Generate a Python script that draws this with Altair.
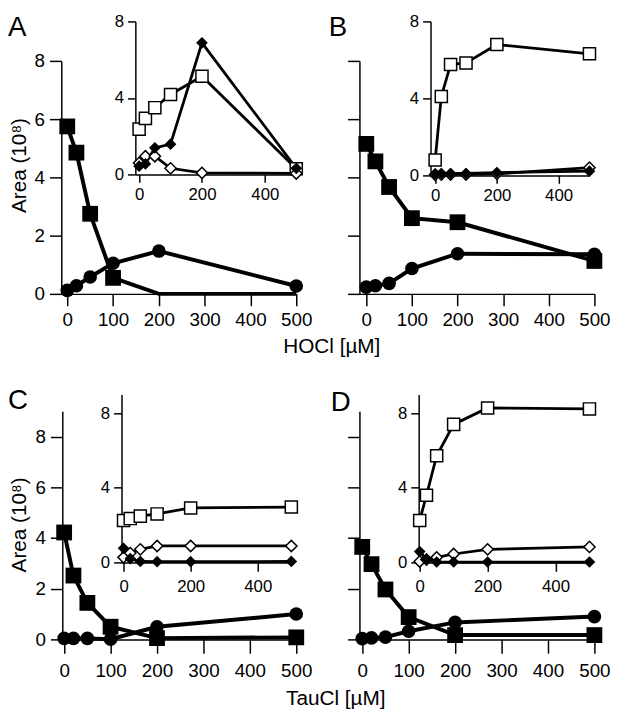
import altair as alt
import pandas as pd

FONT = "Liberation Sans"
W, H = 625, 707

# concentrations (µM)
conc = [0, 20, 50, 100, 200, 500]

# ---- Panel A (HOCl) ----
a_main_sq = [5.75, 4.85, 2.75, 0.55, 0.0, 0.0]
a_main_ci = [0.12, 0.28, 0.58, 1.05, 1.47, 0.27]
a_in_osq = [2.37, 2.93, 3.49, 4.18, 5.13, 0.3]
a_in_fdi = [0.43, 0.55, 1.39, 1.58, 6.88, 0.32]
a_in_odi = [0.6, 0.95, 0.95, 0.32, 0.08, 0.05]

# ---- Panel B (HOCl) ----
b_main_sq = [5.15, 4.55, 3.67, 2.6, 2.46, 1.13]
b_main_ci = [0.23, 0.28, 0.36, 0.87, 1.38, 1.36]
b_in_osq = [0.8, 4.1, 5.76, 5.84, 6.8, 6.32]
b_in_fdi = [0.08, 0.1, 0.1, 0.1, 0.15, 0.22]
b_in_odi = [0.03, 0.05, 0.05, 0.05, 0.08, 0.4]

# ---- Panel C (TauCl) ----
c_main_sq = [4.22, 2.52, 1.44, 0.5, 0.05, 0.08]
c_main_ci = [0.04, 0.04, 0.04, 0.01, 0.5, 1.0]
c_in_osq = [2.25, 2.35, 2.48, 2.6, 2.92, 2.97]
c_in_fdi = [0.76, 0.2, 0.05, 0.04, 0.04, 0.05]
c_in_odi = [0.27, 0.5, 0.7, 0.88, 0.88, 0.88]

# ---- Panel D (TauCl) ----
d_main_sq = [3.65, 2.97, 1.97, 0.88, 0.17, 0.17]
d_main_ci = [0.03, 0.06, 0.09, 0.32, 0.67, 0.9]
d_in_osq = [2.25, 3.6, 5.72, 7.4, 8.28, 8.23]
d_in_fdi = [0.58, 0.18, 0.02, 0.02, 0.02, 0.02]
d_in_odi = [0.05, 0.15, 0.27, 0.45, 0.7, 0.83]

main_xticks = [0, 100, 200, 300, 400, 500]
main_yticks = [0, 2, 4, 6, 8]
inset_xticks = [0, 200, 400]
inset_yticks = [0, 4, 8]


def long_df(**series):
    rows = []
    for name, vals in series.items():
        for c, v in zip(conc, vals):
            rows.append({"x": c, "value": v, "series": name})
    return pd.DataFrame(rows)


def axis_common(size, ticksize, pad):
    return dict(grid=False, domainColor="black", domainWidth=1.5, tickColor="black",
                tickWidth=1.5, tickSize=ticksize, labelFont=FONT, labelFontSize=size,
                labelColor="black", labelPadding=pad, labelFlush=False,
                labelOverlap=False, title=None)


def encodings(xdom, xr, ydom, yr, xvals, yvals, ylabels, size, yts, ypad, xts, xpad):
    x = alt.X("x:Q", scale=alt.Scale(domain=xdom, range=xr, nice=False, zero=False),
              axis=alt.Axis(orient="bottom", offset=yr[0] - H, values=xvals,
                            **axis_common(size, xts, xpad)))
    y = alt.Y("value:Q", scale=alt.Scale(domain=ydom, range=yr, nice=False, zero=False),
              axis=alt.Axis(orient="left", offset=-xr[0], values=yvals, labels=ylabels,
                            **axis_common(size, yts, ypad)))
    return x, y


def main_panel(sq, ci, xdom, xr, ydom, yr, ylabels, xts, xpad):
    df = long_df(sq=sq, ci=ci)
    x, y = encodings(xdom, xr, ydom, yr, main_xticks, main_yticks, ylabels, 19,
                     12, 5, xts, xpad)
    base = alt.Chart(df)
    lines = base.mark_line(color="black", strokeWidth=4).encode(x=x, y=y, detail="series:N")
    pts_sq = base.transform_filter("datum.series == 'sq' && datum.value > 0").mark_point(
        shape="square", filled=True, color="black", size=256, opacity=1).encode(x=x, y=y)
    pts_ci = base.transform_filter("datum.series == 'ci' && datum.value > 0").mark_point(
        shape="circle", filled=True, color="black", size=190, opacity=1).encode(x=x, y=y)
    return alt.layer(lines, pts_sq, pts_ci)


def inset_panel(osq, fdi, odi, xdom, xr, ydom, yr, xts, xpad):
    df = long_df(osq=osq, fdi=fdi, odi=odi)
    x, y = encodings(xdom, xr, ydom, yr, inset_xticks, inset_yticks, True, 17,
                     8, 4, xts, xpad)
    base = alt.Chart(df)
    lines = base.mark_line(color="black", strokeWidth=2.8).encode(x=x, y=y, detail="series:N")
    p_osq = base.transform_filter("datum.series == 'osq'").mark_point(
        shape="square", filled=True, fill="white", stroke="black", strokeWidth=1.5,
        size=150, opacity=1).encode(x=x, y=y)
    p_odi = base.transform_filter("datum.series == 'odi'").mark_point(
        shape="diamond", filled=True, fill="white", stroke="black", strokeWidth=1.5,
        size=130, opacity=1).encode(x=x, y=y)
    p_fdi = base.transform_filter("datum.series == 'fdi'").mark_point(
        shape="diamond", filled=True, color="black", size=140, opacity=1).encode(x=x, y=y)
    return alt.layer(lines, p_osq, p_odi, p_fdi)


def label(text, px, py, size, angle=0, align="left", baseline="middle"):
    return alt.Chart(pd.DataFrame({"t": [text]})).mark_text(
        font=FONT, fontSize=size, align=align, baseline=baseline, angle=angle,
        color="black").encode(x=alt.value(px), y=alt.value(py), text="t:N")


top_main_y = [285, 49]
bot_main_y = [635, 404]
top_in_y = [164, 9]
bot_in_y = [557, 387]

layers = [
    main_panel(a_main_sq, a_main_ci, [-13, 500], [54, 292], [0, 8], top_main_y, True, 12, 5),
    inset_panel(a_in_osq, a_in_fdi, a_in_odi, [-12, 500], [129, 292], [0, 8], top_in_y, 8, 4),
    main_panel(b_main_sq, b_main_ci, [-15, 500], [356, 594], [0, 8], top_main_y, False, 12, 5),
    inset_panel(b_in_osq, b_in_fdi, b_in_odi, [-15, 500], [428, 589], [0, 8], [165, 9], 8, 4),
    main_panel(c_main_sq, c_main_ci, [-4, 500], [55, 292], [0, 9], bot_main_y, True, 14, 9),
    inset_panel(c_in_osq, c_in_fdi, c_in_odi, [-6, 500], [115, 287], [0, 9], bot_in_y, 9, 7),
    main_panel(d_main_sq, d_main_ci, [-6, 500], [356, 594], [0, 9], bot_main_y, False, 14, 9),
    inset_panel(d_in_osq, d_in_fdi, d_in_odi, [-3, 500], [416, 589], [0, 9], bot_in_y, 9, 7),
    label("A", 0, 24, 28, baseline="alphabetic"),
    label("B", 325, 24, 28, baseline="alphabetic"),
    label("C", 0, 402, 28, baseline="alphabetic"),
    label("D", 327, 404, 28, baseline="alphabetic"),
    label("Area (10⁸)", 12, 155, 21, angle=270, align="center"),
    label("Area (10⁸)", 12, 519, 21, angle=270, align="center"),
    label("HOCl [µM]", 328, 339, 21, align="center"),
    label("TauCl [µM]", 332, 695, 21, align="center"),
]

chart = alt.layer(*layers).resolve_scale(x="independent", y="independent").properties(
    width=W, height=H, autosize=alt.AutoSizeParams(type="none"), padding=0
).configure_view(stroke=None)

chart.save("out.html", embed_options={"renderer": "svg", "actions": False})
